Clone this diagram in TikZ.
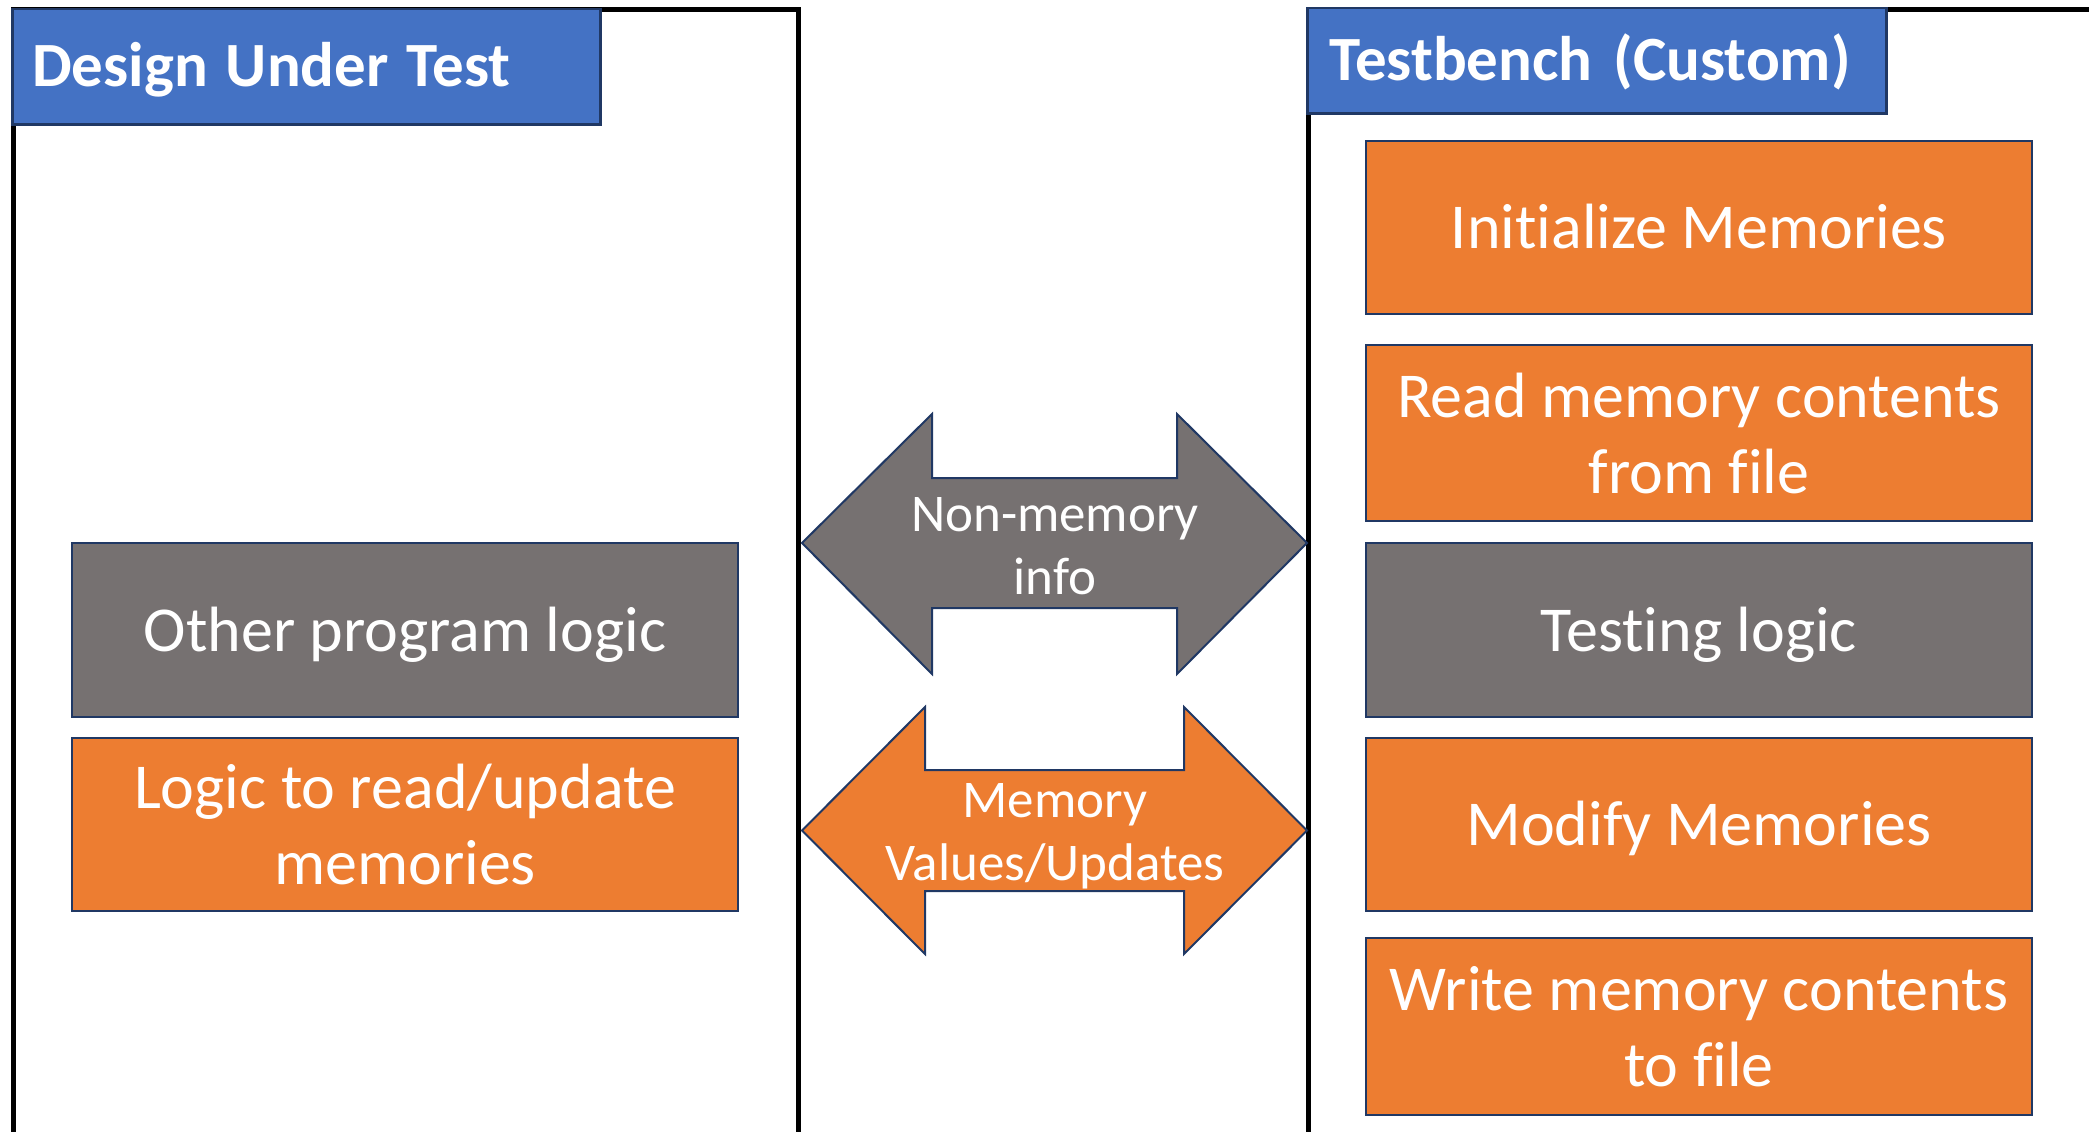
\documentclass[tikz,border=0pt]{standalone}
\usepackage{fontspec}
\setmainfont[Ligatures=NoCommon]{Carlito}
\definecolor{hdrblue}{HTML}{4472C4}
\definecolor{boxorange}{HTML}{ED7D31}
\definecolor{boxgray}{HTML}{767171}
\definecolor{navy}{HTML}{203864}
\begin{document}
\begin{tikzpicture}[x=1pt,y=-1pt,
  blk/.style={draw=navy, line width=2.5pt, minimum width=666pt, inner sep=0pt,
    text=white, align=center, font=\fontsize{64}{76}\selectfont},
  orangebox/.style={blk, fill=boxorange},
  graybox/.style={blk, fill=boxgray},
  oneline/.style={text height=58pt, text depth=16pt},
  hdr/.style={draw=navy, line width=2.5pt, fill=hdrblue, text=white,
    font=\bfseries\fontsize{63}{76}\selectfont, anchor=north west,
    inner ysep=0pt, align=left, text height=58pt, text depth=18pt},
  frame/.style={draw=black, line width=5pt},
  dblarrow/.style={draw=navy, line width=2pt, line join=miter},
  arrowlabel/.style={text=white, align=center, inner sep=0pt,
    font=\fontsize{53}{63}\selectfont}]
\useasboundingbox (0,0) rectangle (2089,1132);
\clip (0,0) rectangle (2089,1132);
\fill[white] (0,0) rectangle (2089,1132);

% outer frames
\draw[frame] (13.5,1150) -- (13.5,9.5) -- (798.5,9.5) -- (798.5,1150);
\draw[frame] (1308.5,1150) -- (1308.5,9.5) -- (2100,9.5);

% headers
\node[hdr, minimum width=588pt, minimum height=115pt, text width=548pt, inner xsep=20pt] (dut) at (11,8) {Design\hspace{-3pt} Under\hspace{-3pt} Test};
\node[hdr, minimum width=579pt, minimum height=105pt, text width=535pt, inner xsep=22pt] (tb) at (1306,7) {Testbench (Custom)};

% testbench boxes
\node[orangebox, oneline, minimum height=173pt] (init) at (1699,227.5) {Initialize Memories};
\node[orangebox, minimum height=176pt] (read) at (1699,433) {Read memory contents\\from file};
\node[graybox, oneline, minimum height=174pt] (test) at (1699,630) {Testing logic};
\node[orangebox, oneline, minimum height=173pt] (modify) at (1699,824.5) {Modify Memories};
\node[orangebox, minimum height=177pt] (write) at (1699,1026.5) {Write memory contents\\to file};

% DUT boxes
\node[graybox, oneline, minimum height=174pt] (other) at (405,630) {Other program logic};
\node[orangebox, minimum height=173pt] (logic) at (405,824.5) {Logic to read/update\\memories};

% double arrows
\draw[dblarrow, fill=boxgray] (802,543) -- (932,414) -- (932,478) -- (1177,478) -- (1177,414)
  -- (1307,543) -- (1177,674) -- (1177,608) -- (932,608) -- (932,674) -- cycle;
\node[arrowlabel] (nonmem) at (1055,546) {Non-memory\\info};

\draw[dblarrow, fill=boxorange] (802,830.5) -- (925,707) -- (925,770) -- (1184,770) -- (1184,707)
  -- (1307,830.5) -- (1184,954) -- (1184,891) -- (925,891) -- (925,954) -- cycle;
\node[arrowlabel] (memval) at (1055,836) {Memory\\Values/Updates};
\end{tikzpicture}
\end{document}
